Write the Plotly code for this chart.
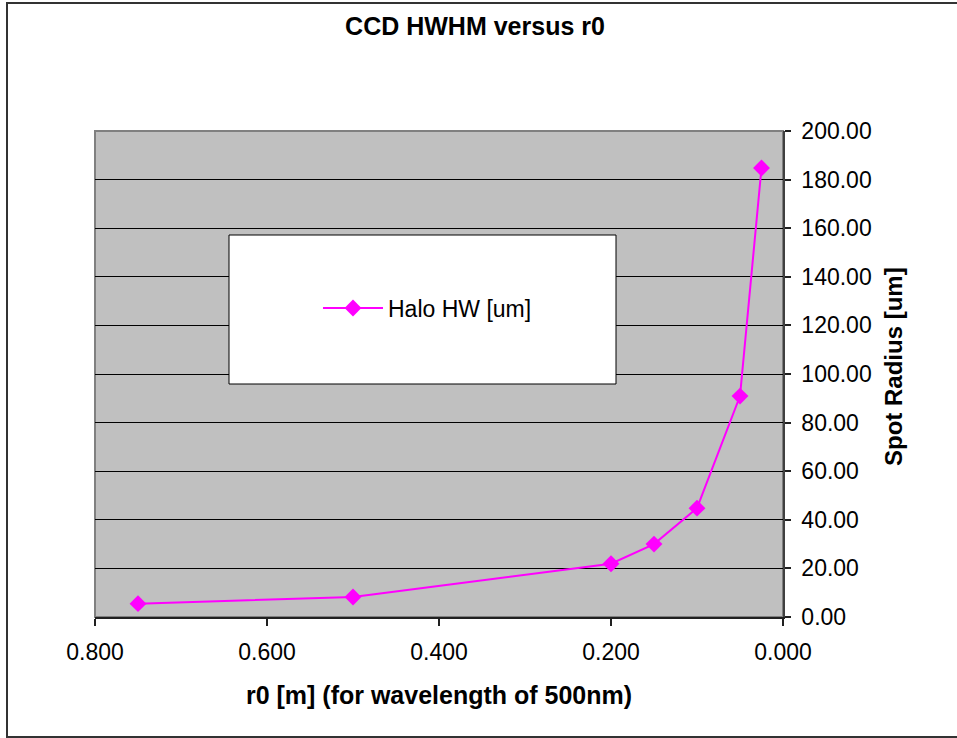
import plotly.graph_objects as go

# ---- data ----
r0_m = [0.75, 0.5, 0.2, 0.15, 0.1, 0.05, 0.025]
halo_hw_um = [5.5, 8.2, 21.9, 30.0, 44.8, 90.9, 184.8]
series_name = "Halo HW [um]"
chart_title = "CCD HWHM versus r0"
x_title = "r0 [m] (for wavelength of 500nm)"
y_title = "Spot Radius [um]"

W, H = 957, 738
L, R, T, B = 95, 957 - 783, 131, 738 - 617
PW, PH = W - L - R, H - T - B

def px_x(p):
    return (p - L) / PW

def px_y(p):
    return (H - B - p) / PH

FONT = "Liberation Sans, Arial, sans-serif"

fig = go.Figure()
fig.add_trace(go.Scatter(
    x=r0_m, y=halo_hw_um, name=series_name, mode="lines+markers",
    line=dict(color="#FF00FF", width=2),
    marker=dict(symbol="diamond", size=13, color="#FF00FF"),
    showlegend=True,
))

fig.update_layout(
    width=W, height=H,
    margin=dict(l=L, r=R, t=T, b=B, autoexpand=False),
    paper_bgcolor="white", plot_bgcolor="#C0C0C0",
    font=dict(family=FONT, color="black", size=23),
    title=dict(text="<b>" + chart_title + "</b>", x=475 / W, xref="container",
               xanchor="center", y=1 - 26 / H, yref="container", yanchor="middle",
               font=dict(size=25, family=FONT)),
    showlegend=True,
    legend=dict(x=px_x(318), y=px_y(308), xanchor="left", yanchor="middle",
                bgcolor="rgba(0,0,0,0)", borderwidth=0, itemwidth=60,
                font=dict(size=23, family=FONT)),
    xaxis=dict(range=[0.8, 0], dtick=0.2, tick0=0, tickformat=".3f",
               showgrid=False, zeroline=False,
               showline=True, linecolor="#202020", linewidth=1.5,
               ticks="outside", ticklen=7, tickcolor="#202020", tickwidth=1.5,
               tickfont=dict(size=23), ticklabelstandoff=7,
               title=dict(text="<b>" + x_title + "</b>", font=dict(size=25), standoff=22)),
    yaxis=dict(range=[0, 200], dtick=20, tickformat=".2f", side="right",
               showgrid=True, gridcolor="black", gridwidth=1, zeroline=False,
               showline=True, linecolor="#404040", linewidth=1.5,
               ticks="outside", ticklen=6, tickcolor="#202020", tickwidth=1.5,
               tickfont=dict(size=23), ticklabelstandoff=6),
    annotations=[
        dict(text="<b>" + y_title + "</b>", textangle=-90, showarrow=False,
             xref="paper", yref="paper", x=px_x(893), y=px_y(367),
             xanchor="center", yanchor="middle", font=dict(size=24, family=FONT)),
    ],
    shapes=[
        # plot area border
        dict(type="rect", xref="paper", yref="paper", x0=0, x1=1, y0=0, y1=1,
             line=dict(color="#808080", width=2), fillcolor="rgba(0,0,0,0)", layer="below"),
        # legend box
        dict(type="rect", xref="paper", yref="paper",
             x0=px_x(229), x1=px_x(616), y0=px_y(384), y1=px_y(235),
             line=dict(color="black", width=1), fillcolor="white", layer="above"),
        # outer chart border
        dict(type="rect", xref="paper", yref="paper",
             x0=px_x(7), x1=px_x(965), y0=px_y(737), y1=px_y(3),
             line=dict(color="#333333", width=2), fillcolor="rgba(0,0,0,0)", layer="above"),
    ],
)

fig.write_html("out.html")
